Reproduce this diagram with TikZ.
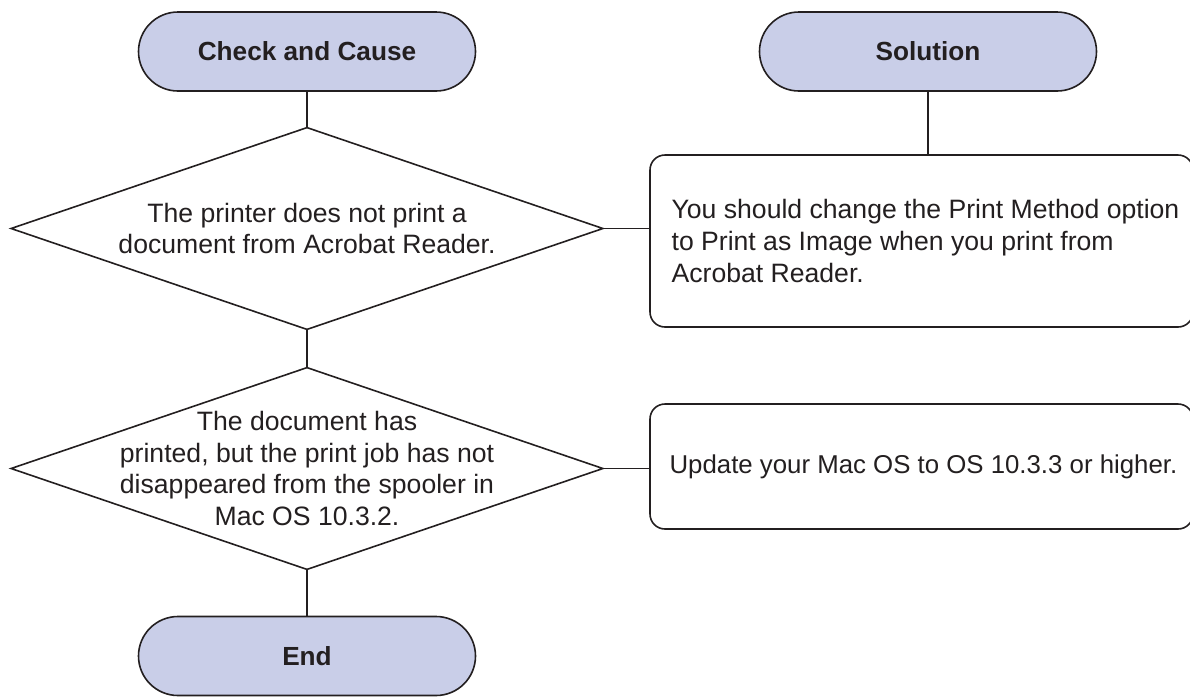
\documentclass[tikz,border=0pt]{standalone}
\usepackage{fontspec}
\setmainfont{Liberation Sans}
\definecolor{termfill}{RGB}{201,206,232}
\definecolor{ink}{RGB}{35,31,32}
\begin{document}
\begin{tikzpicture}[x=0.5pt,y=-0.5pt,
  every node/.style={font=\fontsize{13.3}{15.85}\selectfont, text=ink},
  terminal/.style={draw=ink, line width=0.8pt, fill=termfill, rounded corners=19.75pt,
    minimum width=168.5pt, minimum height=39.5pt, inner sep=0pt,
    font=\fontsize{13.1}{15.85}\selectfont\bfseries},
  decarea/.style={minimum width=295.5pt, minimum height=100.5pt, inner sep=0pt, align=center},
  solbox/.style={draw=ink, line width=0.8pt, rounded corners=7.5pt, minimum width=271.5pt, inner sep=0pt},
  soltext/.style={anchor=west, align=left, inner sep=0pt},
  link/.style={draw=ink, line width=0.8pt}]
\useasboundingbox (0,0) rectangle (1190,697);
% terminals
\node[terminal] (t1) at (307,51.5) {Check and Cause};
\node[terminal] (t2) at (928,51.5) {Solution};
\node[terminal] (t3) at (307,656) {End};
% decisions
\node[decarea] (d1) at (307,228.5) {The printer does not print a\\document from Acrobat Reader.};
\draw[link] (d1.north) -- (d1.east) -- (d1.south) -- (d1.west) -- cycle;
\node[decarea] (d2) at (307,468.5) {The document has\\printed, but the print job has not\\disappeared from the spooler in\\Mac OS 10.3.2.};
\draw[link] (d2.north) -- (d2.east) -- (d2.south) -- (d2.west) -- cycle;
% solution boxes
\node[solbox, minimum height=86pt] (b1) at (921.5,241) {};
\node[soltext] (b1t) at ([xshift=11pt]b1.west) {You should change the Print Method option\\to Print as Image when you print from\\Acrobat Reader.};
\node[solbox, minimum height=62.5pt] (b2) at (921.5,466.5) {};
\node[soltext, font=\fontsize{12.9}{15.85}\selectfont] (b2t) at ([xshift=10pt]b2.west) {Update your Mac OS to OS 10.3.3 or higher.};
% connectors
\draw[link] (t1.south) -- (d1.north);
\draw[link] (d1.south) -- (d2.north);
\draw[link] (d2.south) -- (t3.north);
\draw[link] (d1.east) -- (d1.east -| b1.west);
\draw[link] (d2.east) -- (d2.east -| b2.west);
\draw[link] (t2.south) -- (t2.south |- b1.north);
\end{tikzpicture}
\end{document}
